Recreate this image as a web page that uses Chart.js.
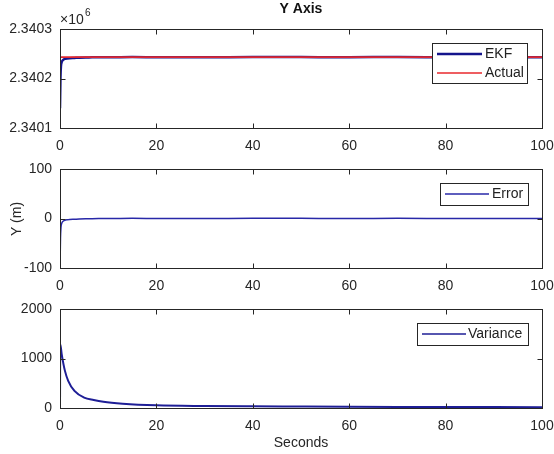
<!DOCTYPE html>
<html>
<head>
<meta charset="utf-8">
<script src="https://cdn.jsdelivr.net/npm/chart.js@4"></script>
<style>
  body { margin: 0; background: #fff; }
  #wrap { position: relative; width: 554px; height: 454px; }
  canvas { position: absolute; left: 0; top: 0; }
</style>
</head>
<body>
<div id="wrap">
  <canvas id="c1" width="554" height="454"></canvas>
  <canvas id="c2" width="554" height="454"></canvas>
  <canvas id="c3" width="554" height="454"></canvas>
</div>
<script>
// time axis ticks (seconds)
const xTicks = [0, 20, 40, 60, 80, 100];

// top plot: position (m)
const posTicks = [2340100, 2340200, 2340300];
const tEkf = [0, 0.1, 0.2, 0.35, 0.5, 0.7, 1, 1.5, 2, 3, 4, 6, 8, 10, 15, 20, 30, 40, 50, 60, 70, 80, 90, 100];
const ekfY = [2340140, 2340203, 2340225, 2340233, 2340236, 2340238, 2340239.5, 2340240.5, 2340241, 2340241.5, 2340242, 2340242.5, 2340243, 2340243, 2340243.3, 2340243, 2340242.8, 2340243.5, 2340243.3, 2340243, 2340243.4, 2340243, 2340242.8, 2340243];
const tActual = [0, 100];
const actualY = [2340243, 2340243];

// middle plot: error (m)
const errTicks = [-100, 0, 100];
const tErr = [0, 0.1, 0.2, 0.35, 0.5, 0.7, 1, 1.5, 2, 3, 4, 6, 8, 10, 15, 20, 30, 40, 50, 60, 70, 80, 90, 100];
const errY = [-100, -40, -18, -10, -7, -5, -3.5, -2.5, -2, -1.5, -1, -0.5, 0, 0, 0.3, 0, -0.2, 0.5, 0.3, 0, 0.4, 0, -0.2, 0];

// bottom plot: variance
const varTicks = [0, 1000, 2000];
const tVar = [0, 0.05, 0.35, 1, 1.7, 3, 5, 7, 9, 13, 20, 30, 40, 50, 60, 70, 80, 90, 100];
const varY = [0, 1290, 1090, 760, 550, 345, 210, 160, 125, 88, 55, 40, 33, 29, 25, 22, 20, 18, 17];

const pts = (t, v) => t.map((x, i) => ({x: x, y: v[i]}));
const FONT = 'Liberation Sans, Arial, sans-serif';
const AX = '#262626';

const matlabAxes = {
  id: 'matlabAxes',
  afterDraw(chart, args, opts) {
    const ctx = chart.ctx, a = chart.chartArea;
    const x = chart.scales.x, y = chart.scales.y;
    ctx.save();
    ctx.strokeStyle = AX;
    ctx.lineWidth = 1;
    const L = Math.round(a.left) + 0.5, R = Math.round(a.right) + 0.5;
    const T = Math.round(a.top) + 0.5, B = Math.round(a.bottom) + 0.5;
    ctx.strokeRect(L, T, R - L, B - T);
    ctx.beginPath();
    x.ticks.forEach(t => {
      const px = Math.round(x.getPixelForValue(t.value)) + 0.5;
      ctx.moveTo(px, B); ctx.lineTo(px, B - 5);
      ctx.moveTo(px, T); ctx.lineTo(px, T + 5);
    });
    y.ticks.forEach(t => {
      const py = Math.round(y.getPixelForValue(t.value)) + 0.5;
      ctx.moveTo(L, py); ctx.lineTo(L + 5, py);
      ctx.moveTo(R, py); ctx.lineTo(R - 5, py);
    });
    ctx.stroke();

    // legend box
    const lg = opts.legend;
    if (lg) {
      ctx.fillStyle = '#fff';
      ctx.fillRect(lg.x, lg.y, lg.w, lg.h);
      ctx.strokeStyle = AX;
      ctx.strokeRect(lg.x + 0.5, lg.y + 0.5, lg.w, lg.h);
      lg.items.forEach(it => {
        ctx.strokeStyle = it.color;
        ctx.lineWidth = it.width;
        ctx.beginPath();
        ctx.moveTo(lg.lineX1, it.y); ctx.lineTo(lg.lineX2, it.y);
        ctx.stroke();
        ctx.fillStyle = '#222';
        ctx.font = '14px ' + FONT;
        ctx.textAlign = 'left';
        ctx.textBaseline = 'middle';
        ctx.fillText(it.label, lg.textX, it.y + 0.5);
      });
    }

    // extra texts
    (opts.texts || []).forEach(tx => {
      ctx.save();
      ctx.fillStyle = tx.color || '#262626';
      ctx.font = tx.font;
      ctx.textAlign = tx.align || 'center';
      ctx.textBaseline = 'middle';
      ctx.translate(tx.x, tx.y);
      if (tx.rot) ctx.rotate(tx.rot);
      ctx.fillText(tx.text, 0, 0);
      ctx.restore();
    });
    ctx.restore();
  }
};

function makeChart(id, top, bottom, datasets, yTicks, yFmt, extra) {
  return new Chart(document.getElementById(id), {
    type: 'line',
    data: { datasets: datasets },
    options: {
      responsive: false,
      animation: false,
      events: [],
      layout: { padding: { top: top, left: 0, right: 12, bottom: 454 - bottom - 26 } },
      elements: { point: { radius: 0 }, line: { tension: 0 } },
      plugins: {
        legend: { display: false },
        tooltip: { enabled: false },
        matlabAxes: extra
      },
      scales: {
        x: {
          type: 'linear',
          min: xTicks[0], max: xTicks[xTicks.length - 1],
          afterBuildTicks: s => { s.ticks = xTicks.map(v => ({value: v})); },
          afterFit: s => { s.height = 26; },
          // transparent tick marks push the labels down without adding side padding
          grid: { display: true, drawOnChartArea: false, drawTicks: true, tickLength: 10, color: 'rgba(0,0,0,0)' },
          border: { display: false },
          ticks: { color: '#262626', padding: 0, maxRotation: 0, font: { family: FONT, size: 14 } }
        },
        y: {
          type: 'linear',
          min: yTicks[0], max: yTicks[yTicks.length - 1],
          afterBuildTicks: s => { s.ticks = yTicks.map(v => ({value: v})); },
          afterFit: s => { s.width = 60; },
          grid: { display: false, drawTicks: false },
          border: { display: false },
          ticks: { color: '#262626', padding: 8, callback: yFmt, font: { family: FONT, size: 14 } }
        }
      }
    },
    plugins: [matlabAxes]
  });
}

// Actual gets order 0 so it is drawn over the EKF line, as in the original plot
makeChart('c1', 29, 128, [
  { label: 'EKF', order: 1, data: pts(tEkf, ekfY), borderColor: '#14148c', borderWidth: 2.5, cubicInterpolationMode: 'monotone' },
  { label: 'Actual', order: 0, data: pts(tActual, actualY), borderColor: '#e02830', borderWidth: 1.8 }
], posTicks, v => (v / 1e6).toFixed(4), {
  legend: { x: 432, y: 43, w: 95, h: 40, lineX1: 437, lineX2: 482, textX: 485,
    items: [ { label: 'EKF', color: '#14148c', width: 2.5, y: 54 }, { label: 'Actual', color: '#e8282c', width: 1.5, y: 73 } ] },
  texts: [
    { text: 'Y Axis', x: 301, y: 9, font: 'bold 14px ' + FONT, color: '#111' },
    { text: '\u00d710', x: 60, y: 20, font: '14px ' + FONT, align: 'left' },
    { text: '6', x: 85, y: 13, font: '10px ' + FONT, align: 'left' }
  ]
});

makeChart('c2', 169, 268, [
  { label: 'Error', data: pts(tErr, errY), borderColor: '#2828a8', borderWidth: 1.5, cubicInterpolationMode: 'monotone' }
], errTicks, v => v, {
  legend: { x: 440, y: 183, w: 88, h: 22, lineX1: 445, lineX2: 489, textX: 492,
    items: [ { label: 'Error', color: '#2828a8', width: 1.5, y: 194 } ] },
  texts: [
    { text: 'Y (m)', x: 17, y: 219, font: '14px ' + FONT, rot: -Math.PI / 2 }
  ]
});

makeChart('c3', 309, 408, [
  { label: 'Variance', data: pts(tVar, varY), borderColor: '#1e1e96', borderWidth: 2, cubicInterpolationMode: 'monotone' }
], varTicks, v => v, {
  legend: { x: 417, y: 323, w: 111, h: 22, lineX1: 422, lineX2: 466, textX: 468,
    items: [ { label: 'Variance', color: '#1e1e96', width: 1.5, y: 334 } ] },
  texts: [
    { text: 'Seconds', x: 301, y: 443, font: '14px ' + FONT }
  ]
});
</script>
</body>
</html>
